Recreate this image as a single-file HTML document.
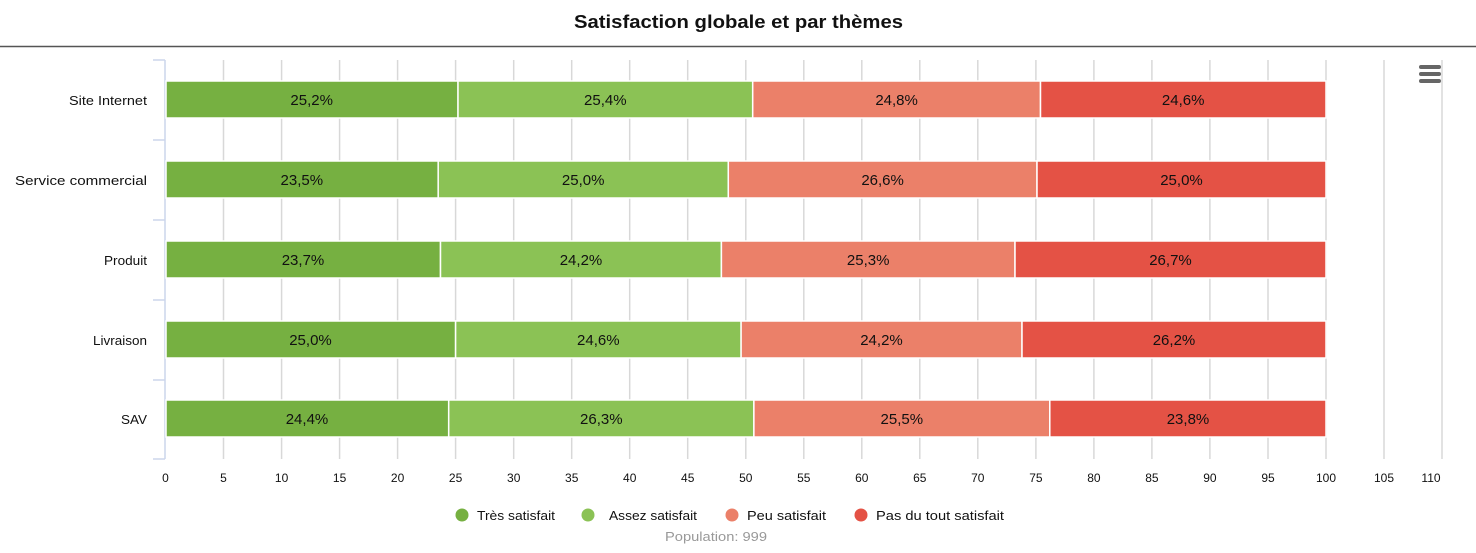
<!DOCTYPE html>
<html><head><meta charset="utf-8"><style>
body{margin:0;background:#fff;width:1476px;height:548px;overflow:hidden;font-family:"Liberation Sans",sans-serif}
</style></head><body>
<svg width="1476" height="548" xmlns="http://www.w3.org/2000/svg" font-family="Liberation Sans, sans-serif">
<text x="574" y="28" font-size="18" font-weight="bold" fill="#111" textLength="329" lengthAdjust="spacingAndGlyphs">Satisfaction globale et par thèmes</text>
<line x1="0" y1="46.5" x2="1476" y2="46.5" stroke="#555" stroke-width="1.5"/>
<g stroke="#d8d8d8" stroke-width="1.5">
<line x1="223.5" y1="60" x2="223.5" y2="459"/><line x1="281.6" y1="60" x2="281.6" y2="459"/><line x1="339.6" y1="60" x2="339.6" y2="459"/><line x1="397.6" y1="60" x2="397.6" y2="459"/><line x1="455.6" y1="60" x2="455.6" y2="459"/><line x1="513.7" y1="60" x2="513.7" y2="459"/><line x1="571.7" y1="60" x2="571.7" y2="459"/><line x1="629.7" y1="60" x2="629.7" y2="459"/><line x1="687.7" y1="60" x2="687.7" y2="459"/><line x1="745.8" y1="60" x2="745.8" y2="459"/><line x1="803.8" y1="60" x2="803.8" y2="459"/><line x1="861.8" y1="60" x2="861.8" y2="459"/><line x1="919.8" y1="60" x2="919.8" y2="459"/><line x1="977.8" y1="60" x2="977.8" y2="459"/><line x1="1035.9" y1="60" x2="1035.9" y2="459"/><line x1="1093.9" y1="60" x2="1093.9" y2="459"/><line x1="1151.9" y1="60" x2="1151.9" y2="459"/><line x1="1209.9" y1="60" x2="1209.9" y2="459"/><line x1="1268" y1="60" x2="1268" y2="459"/><line x1="1326" y1="60" x2="1326" y2="459"/><line x1="1384" y1="60" x2="1384" y2="459"/><line x1="1442" y1="60" x2="1442" y2="459"/>
</g>
<g stroke="#ccd6eb" stroke-width="1.5">
<line x1="165" y1="60" x2="165" y2="459"/>
<line x1="153" y1="60" x2="165" y2="60"/><line x1="153" y1="140" x2="165" y2="140"/><line x1="153" y1="220" x2="165" y2="220"/><line x1="153" y1="300" x2="165" y2="300"/><line x1="153" y1="380" x2="165" y2="380"/><line x1="153" y1="459" x2="165" y2="459"/>
</g>
<g stroke="#fff" stroke-width="1.5">
<rect x="166" y="81" width="292" height="37" fill="#76b041"/><rect x="458" y="81" width="294.7" height="37" fill="#8bc255"/><rect x="752.7" y="81" width="287.8" height="37" fill="#eb8069"/><rect x="1040.5" y="81" width="285.5" height="37" fill="#e45245"/>
<rect x="166" y="161" width="272.2" height="37" fill="#76b041"/><rect x="438.2" y="161" width="290.1" height="37" fill="#8bc255"/><rect x="728.3" y="161" width="308.7" height="37" fill="#eb8069"/><rect x="1037" y="161" width="289" height="37" fill="#e45245"/>
<rect x="166" y="241" width="274.5" height="37" fill="#76b041"/><rect x="440.5" y="241" width="280.9" height="37" fill="#8bc255"/><rect x="721.4" y="241" width="293.6" height="37" fill="#eb8069"/><rect x="1015" y="241" width="311" height="37" fill="#e45245"/>
<rect x="166" y="321" width="289.6" height="37" fill="#76b041"/><rect x="455.6" y="321" width="285.5" height="37" fill="#8bc255"/><rect x="741.1" y="321" width="280.9" height="37" fill="#eb8069"/><rect x="1022" y="321" width="304" height="37" fill="#e45245"/>
<rect x="166" y="400" width="282.7" height="37" fill="#76b041"/><rect x="448.7" y="400" width="305.2" height="37" fill="#8bc255"/><rect x="753.9" y="400" width="295.9" height="37" fill="#eb8069"/><rect x="1049.8" y="400" width="276.2" height="37" fill="#e45245"/>
</g>
<g font-size="15" fill="#111" text-anchor="middle">
<text x="311.7" y="105">25,2%</text><text x="605.3" y="105">25,4%</text><text x="896.6" y="105">24,8%</text><text x="1183.2" y="105">24,6%</text>
<text x="301.8" y="185">23,5%</text><text x="583.2" y="185">25,0%</text><text x="882.6" y="185">26,6%</text><text x="1181.5" y="185">25,0%</text>
<text x="303" y="265">23,7%</text><text x="581" y="265">24,2%</text><text x="868.2" y="265">25,3%</text><text x="1170.5" y="265">26,7%</text>
<text x="310.5" y="345">25,0%</text><text x="598.3" y="345">24,6%</text><text x="881.5" y="345">24,2%</text><text x="1174" y="345">26,2%</text>
<text x="307" y="424">24,4%</text><text x="601.3" y="424">26,3%</text><text x="901.8" y="424">25,5%</text><text x="1188" y="424">23,8%</text>
</g>
<g font-size="13" fill="#111">
<text x="69" y="105" textLength="78" lengthAdjust="spacingAndGlyphs">Site Internet</text><text x="15" y="185" textLength="132" lengthAdjust="spacingAndGlyphs">Service commercial</text><text x="104" y="265" textLength="43" lengthAdjust="spacingAndGlyphs">Produit</text><text x="93" y="345" textLength="54" lengthAdjust="spacingAndGlyphs">Livraison</text><text x="121" y="424" textLength="26" lengthAdjust="spacingAndGlyphs">SAV</text>
</g>
<g font-size="12" fill="#111" text-anchor="middle">
<text x="165.5" y="482">0</text><text x="223.5" y="482">5</text><text x="281.6" y="482">10</text><text x="339.6" y="482">15</text><text x="397.6" y="482">20</text><text x="455.6" y="482">25</text><text x="513.7" y="482">30</text><text x="571.7" y="482">35</text><text x="629.7" y="482">40</text><text x="687.7" y="482">45</text><text x="745.8" y="482">50</text><text x="803.8" y="482">55</text><text x="861.8" y="482">60</text><text x="919.8" y="482">65</text><text x="977.8" y="482">70</text><text x="1035.9" y="482">75</text><text x="1093.9" y="482">80</text><text x="1151.9" y="482">85</text><text x="1209.9" y="482">90</text><text x="1268" y="482">95</text><text x="1326" y="482">100</text><text x="1384" y="482">105</text><text x="1431" y="482">110</text>
</g>
<g fill="#666"><rect x="1419" y="65" width="22" height="4" rx="2"/><rect x="1419" y="72" width="22" height="4" rx="2"/><rect x="1419" y="79" width="22" height="4" rx="2"/></g>
<g font-size="13" fill="#111">
<circle cx="462" cy="515" r="6.5" fill="#76b041"/><text x="477" y="520" textLength="78" lengthAdjust="spacingAndGlyphs">Très satisfait</text>
<circle cx="588" cy="515" r="6.5" fill="#8bc255"/><text x="609" y="520" textLength="88" lengthAdjust="spacingAndGlyphs">Assez satisfait</text>
<circle cx="732" cy="515" r="6.5" fill="#eb8069"/><text x="747" y="520" textLength="79" lengthAdjust="spacingAndGlyphs">Peu satisfait</text>
<circle cx="861" cy="515" r="6.5" fill="#e45245"/><text x="876" y="520" textLength="128" lengthAdjust="spacingAndGlyphs">Pas du tout satisfait</text>
</g>
<text x="665" y="541" font-size="13" fill="#999" textLength="102" lengthAdjust="spacingAndGlyphs">Population: 999</text>
</svg>
</body></html>
